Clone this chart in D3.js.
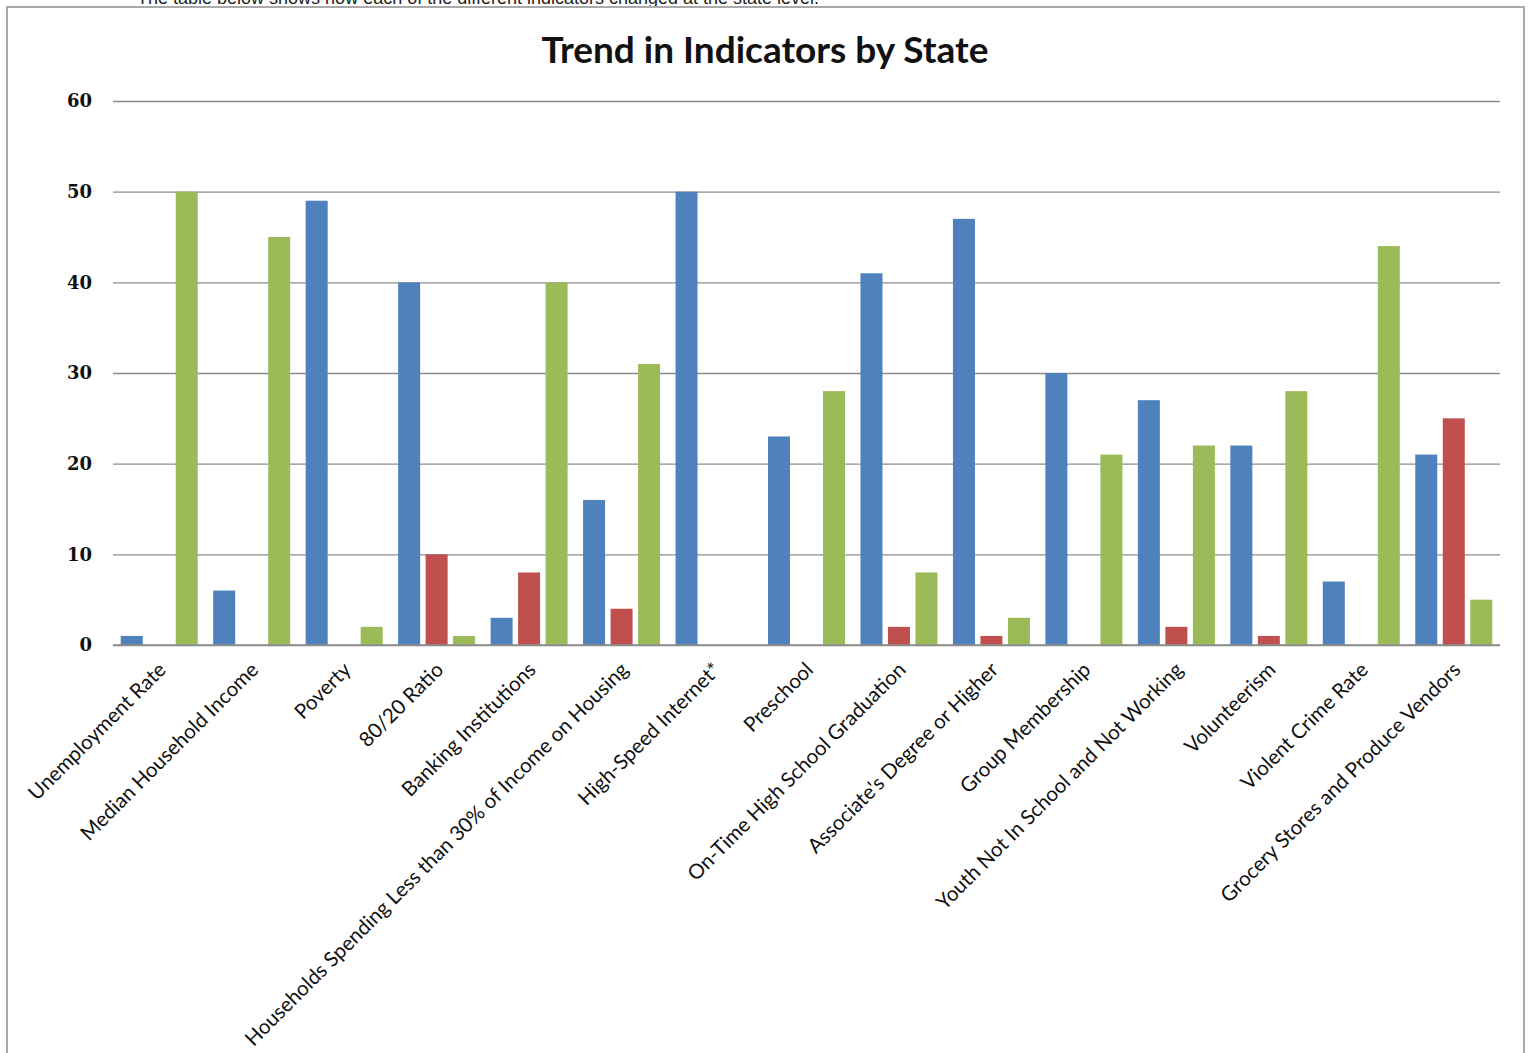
<!DOCTYPE html>
<html><head><meta charset="utf-8">
<script src="https://cdn.jsdelivr.net/npm/d3@7"></script>
<style>
html,body{margin:0;padding:0;background:#fff;overflow:hidden;}
svg{display:block;}
</style></head>
<body>
<svg id="c" width="1530" height="1053"></svg>
<script>
const categories = ["Unemployment Rate","Median Household Income","Poverty","80/20 Ratio","Banking Institutions","Households Spending Less than 30% of Income on Housing","High-Speed Internet*","Preschool","On-Time High School Graduation","Associate's Degree or Higher","Group Membership","Youth Not In School and Not Working","Volunteerism","Violent Crime Rate","Grocery Stores and Produce Vendors"];
const seriesNames = ["Blue","Red","Green"];
const blueValues  = [1, 6, 49, 40, 3, 16, 50, 23, 41, 47, 30, 27, 22, 7, 21];
const redValues   = [0, 0, 0, 10, 8, 4, 0, 0, 2, 1, 0, 2, 1, 0, 25];
const greenValues = [50, 45, 2, 1, 40, 31, 0, 28, 8, 3, 21, 22, 28, 44, 5];
const yTicks = [0,10,20,30,40,50,60];
const colors = ["#4F81BD","#C0504D","#9BBB59"];

const svg = d3.select("#c");
const L = 113, R = 1500, T = 101, B = 645;

// partial intro line at top
svg.append("text").attr("x",137).attr("y",4)
  .attr("font-family","Liberation Sans, Arial, sans-serif").attr("font-size",18).attr("fill","#222")
  .text("The table below shows how each of the different indicators changed at the state level.");

// chart frame
svg.append("rect").attr("x",7).attr("y",7).attr("width",1517).attr("height",1060)
  .attr("fill","#fff").attr("stroke","#aaaaaa").attr("stroke-width",2);

svg.append("text").attr("x",765).attr("y",63).attr("text-anchor","middle")
  .attr("font-family","Lato, 'Open Sans', sans-serif").attr("font-weight","bold").attr("font-size",37)
  .attr("fill","#111").text("Trend in Indicators by State");

const y = d3.scaleLinear().domain([0,60]).range([B,T]);
const x0 = d3.scaleBand().domain(categories).range([L,R]).padding(0);
const x1 = d3.scaleBand().domain(seriesNames).range([-38.5,38.5]).paddingInner(0.2).paddingOuter(0);

// gridlines
const yAxis = d3.axisLeft(y).tickValues(yTicks).tickSize(-(R-L)).tickPadding(20);
const gy = svg.append("g").attr("transform",`translate(${L},0)`).call(yAxis);
gy.select(".domain").remove();
gy.selectAll(".tick line").attr("stroke","#8c8c8c").attr("stroke-width",1.3);
gy.selectAll(".tick text").attr("font-family","'DejaVu Serif', serif").attr("font-weight","bold")
  .attr("font-size",18).attr("fill","#111").attr("x",-21);

const data = categories.map((c,i)=>({c, vals:[blueValues[i],redValues[i],greenValues[i]]}));
const groups = svg.append("g").selectAll("g").data(data).join("g")
  .attr("transform",d=>`translate(${x0(d.c)+x0.bandwidth()/2},0)`);
groups.selectAll("rect").data(d=>d.vals.map((v,j)=>({v,s:seriesNames[j],j}))).join("rect")
  .attr("x",d=>x1(d.s)).attr("width",x1.bandwidth())
  .attr("y",d=>y(d.v)).attr("height",d=>y(0)-y(d.v))
  .attr("fill",d=>colors[d.j]);

// baseline
svg.append("line").attr("x1",L).attr("x2",R).attr("y1",y(0)).attr("y2",y(0)).attr("stroke","#8c8c8c").attr("stroke-width",1.5);

// x labels
const xAxis = d3.axisBottom(x0).tickSize(0).tickPadding(0);
const gx = svg.append("g").attr("transform",`translate(0,${B})`).call(xAxis);
gx.select(".domain").remove();
gx.selectAll(".tick text")
  .attr("font-family","Lato, 'Open Sans', sans-serif").attr("font-size",20.5).attr("fill","#111")
  .attr("text-anchor","end").attr("dy",0)
  .attr("transform","translate(8,26) rotate(-45)");
</script>
</body></html>
